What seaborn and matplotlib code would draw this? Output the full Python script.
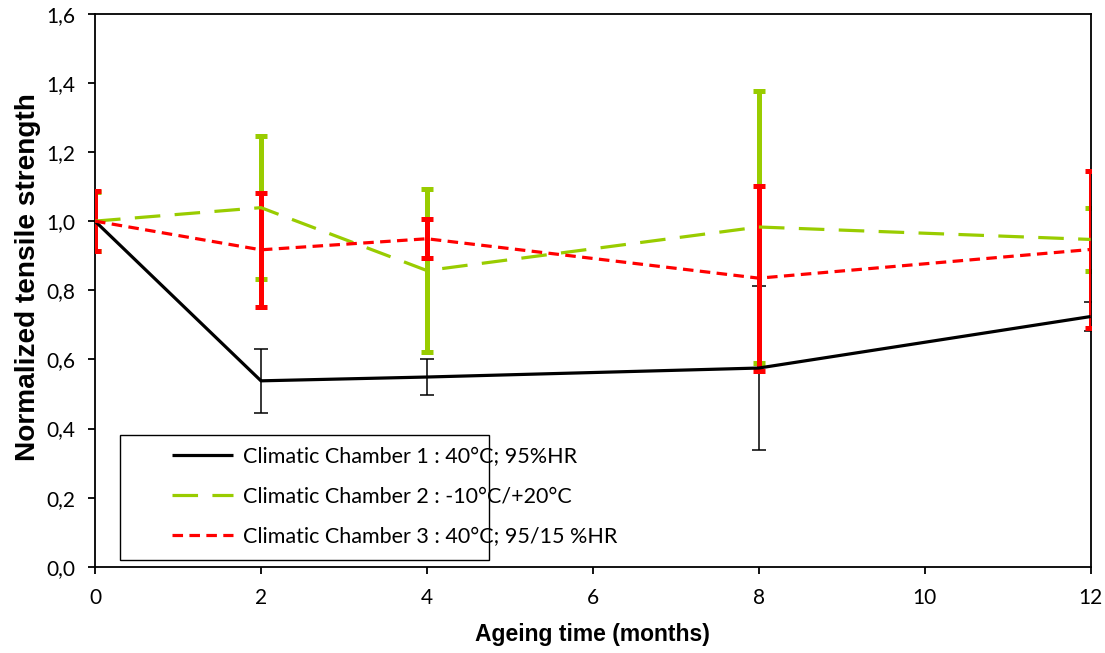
import matplotlib
matplotlib.use('Agg')
import matplotlib.pyplot as plt
import seaborn as sns
import pandas as pd
from matplotlib.ticker import FuncFormatter

# Datos
months = [0, 2, 4, 8, 12]
ch1_mean = [1.0, 0.538, 0.549, 0.575, 0.724]
ch1_err = [0.0, 0.092, 0.053, 0.237, 0.043]
ch2_mean = [1.0, 1.039, 0.857, 0.983, 0.947]
ch2_err = [0.085, 0.206, 0.235, 0.392, 0.091]
ch3_mean = [1.0, 0.917, 0.949, 0.835, 0.918]
ch3_err = [0.087, 0.165, 0.057, 0.268, 0.228]

labels = ['Climatic Chamber 1 : 40°C; 95%HR',
          'Climatic Chamber 2 : -10°C/+20°C',
          'Climatic Chamber 3 : 40°C; 95/15 %HR']
colors = ['black', '#99cc00', '#ff0000']

sns.set_theme(style='ticks')
plt.rcParams['font.family'] = ['Lato', 'DejaVu Sans']

fig = plt.figure(figsize=(11.05, 6.53), dpi=100)
ax = fig.add_axes([0.086, 0.132, 0.901, 0.847])

df = pd.DataFrame({
    'month': months * 3,
    'value': ch1_mean + ch2_mean + ch3_mean,
    'serie': [labels[0]] * 5 + [labels[1]] * 5 + [labels[2]] * 5,
})

# Barras de error
ax.errorbar(months, ch1_mean, yerr=ch1_err, fmt='none', ecolor='black',
            elinewidth=1.1, capsize=5, capthick=1.1, zorder=2)
ax.errorbar(months, ch2_mean, yerr=ch2_err, fmt='none', ecolor=colors[1],
            elinewidth=3.6, capsize=4, capthick=3.6, zorder=2)
ax.errorbar(months, ch3_mean, yerr=ch3_err, fmt='none', ecolor=colors[2],
            elinewidth=3.6, capsize=4, capthick=3.6, zorder=3)

# Lineas
sns.lineplot(data=df, x='month', y='value', hue='serie', style='serie',
             palette=colors, dashes=[(1, 0), (8, 4.5), (3.3, 2)],
             linewidth=2.3, ax=ax, zorder=4, legend=True)

ax.set_xlim(0, 12)
ax.set_ylim(0, 1.6)
ax.set_xticks(range(0, 13, 2))
ax.set_yticks([0, 0.2, 0.4, 0.6, 0.8, 1.0, 1.2, 1.4, 1.6])
ax.yaxis.set_major_formatter(FuncFormatter(lambda v, p: f'{v:.1f}'.replace('.', ',')))
ax.tick_params(direction='out', length=5, width=1.3, labelsize=15, colors='black')
ax.tick_params(axis='y', pad=9)
ax.tick_params(axis='x', pad=10)

for s in ax.spines.values():
    s.set_visible(True)
    s.set_color('black')
    s.set_linewidth(1.3)

ax.set_xlabel('Ageing time (months)', fontsize=16.5, fontweight='bold',
              family='Liberation Sans', color='black', labelpad=11)
ax.set_ylabel('Normalized tensile strength', fontsize=20.2, fontweight='bold',
              family='Liberation Sans', color='black')
ax.yaxis.set_label_coords(-0.054, 0.523)

# Leyenda con marco aparte
ax.add_patch(plt.Rectangle((0.025, 0.013), 0.371, 0.226, transform=ax.transAxes,
                           fill=True, facecolor='white', edgecolor='black',
                           linewidth=1.0, zorder=5))
leg = ax.legend(loc='center left', bbox_to_anchor=(0.0576, 0.1266), frameon=False,
                fontsize=15.5, handlelength=2.85, handletextpad=0.46, labelspacing=0.93)
leg.set_zorder(6)
for t in leg.get_texts():
    t.set_color('black')

fig.savefig('out.png', dpi=100)
